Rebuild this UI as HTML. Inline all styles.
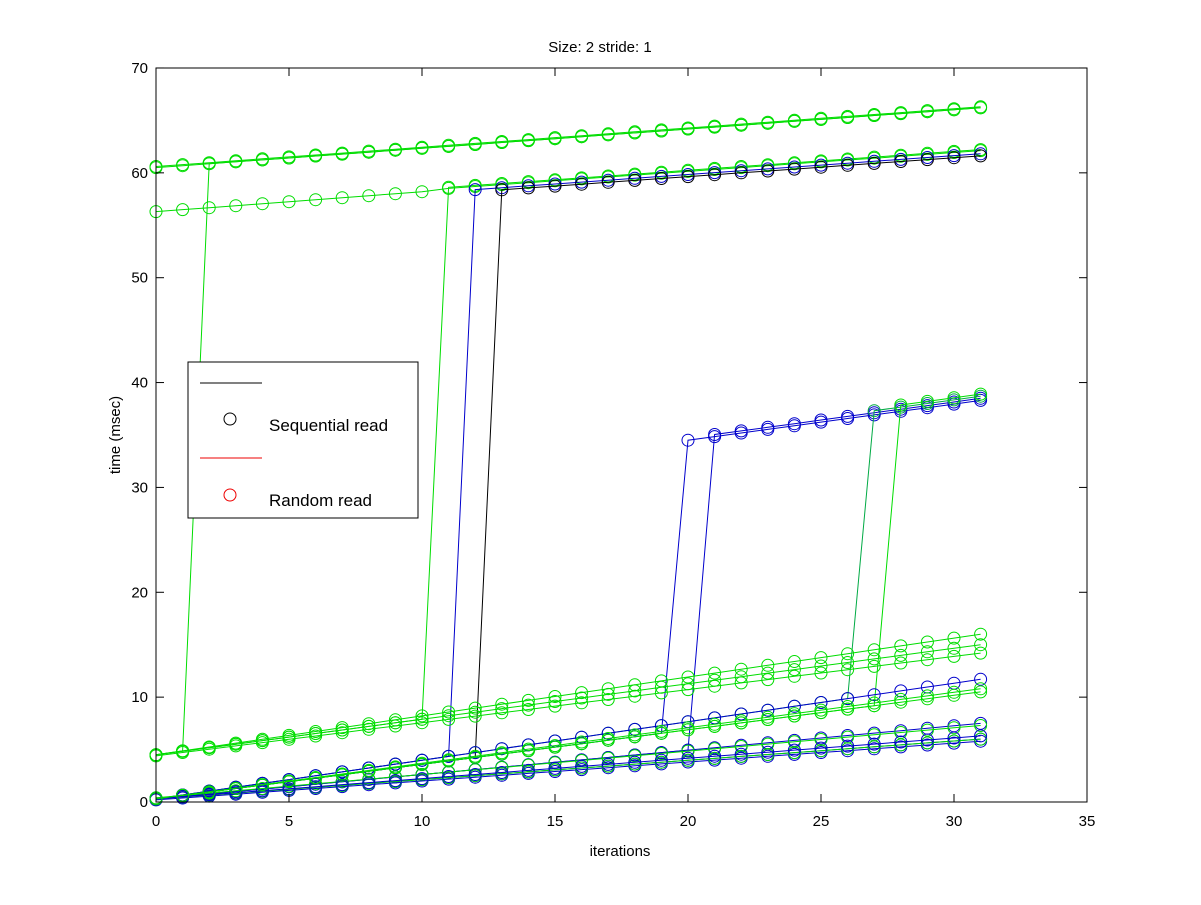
<!DOCTYPE html><html><head><style>body{margin:0;background:#fff}svg text{font-family:"Liberation Sans",sans-serif}</style></head><body>
<svg id="s" width="1201" height="900" xmlns="http://www.w3.org/2000/svg">
<rect width="1201" height="900" fill="#fff"/>
<g id="d"></g>
<rect x="156" y="68" width="931" height="734" fill="none" stroke="#000"/>
<g id="ax" font-size="15"></g>
<text x="600" y="52" font-size="15" text-anchor="middle">Size: 2 stride: 1</text>
<text x="620" y="856" font-size="15" text-anchor="middle">iterations</text>
<text transform="translate(120,435) rotate(-90)" font-size="15" text-anchor="middle">time (msec)</text>
<rect x="188" y="362" width="230" height="156" fill="#fff" stroke="#000"/>
<line x1="200" y1="383" x2="262" y2="383" stroke="#000"/>
<circle cx="230" cy="419" r="6" fill="none" stroke="#000"/>
<text x="269" y="431" font-size="17">Sequential read</text>
<line x1="200" y1="458" x2="262" y2="458" stroke="#e00"/>
<circle cx="230" cy="495" r="6" fill="none" stroke="#e00"/>
<text x="269" y="506" font-size="17">Random read</text>
</svg>
<script>
var X=function(v){return 156+v*26.6},Y=function(v){return 802-v*10.486};
var ax=document.getElementById('ax'),h='';
for(var i=0;i<=35;i+=5){var x=X(i);h+='<line x1="'+x+'" y1="802" x2="'+x+'" y2="794" stroke="#000"/><line x1="'+x+'" y1="68" x2="'+x+'" y2="76" stroke="#000"/><text x="'+x+'" y="826" text-anchor="middle">'+i+'</text>';}
for(var j=0;j<=70;j+=10){var y=Y(j);h+='<line x1="156" y1="'+y+'" x2="164" y2="'+y+'" stroke="#000"/><line x1="1087" y1="'+y+'" x2="1079" y2="'+y+'" stroke="#000"/><text x="148" y="'+(y+5)+'" text-anchor="end">'+j+'</text>';}
ax.innerHTML=h;
function lin(a,b){return function(x){return a+(b-a)*x/31}}
var hi=lin(60.5,66.2),mid=function(x){return 58.4+(x-12)*0.18},b3=function(x){return 34.5+(x-20)*0.345};
function seg(base,jx,top){return function(x){return x<jx?base(x):top(x)}}
var S=[];
var gA=lin(4.5,16),gB=lin(4.5,15),bA=lin(0.3,11.7),bB=lin(0.3,10.5),bC=lin(0.3,7.5),bD=lin(0.3,6),bE=lin(0.2,5.8);
S.push(['#0d0',hi],['#0d0',function(x){return hi(x)+0.1}],['#0d0',function(x){return x<11?56.3+0.19*x:mid(x)+0.3}]);
S.push(['#0d0',seg(gA,2,hi)],['#0d0',seg(gB,11,function(x){return mid(x)+0.4})]);
S.push(['#00c',seg(bA,12,mid)],['#000',seg(bB,13,function(x){return mid(x)-0.2})]);
S.push(['#00c',seg(bB,20,b3)],['#00c',seg(bC,21,function(x){return b3(x)+0.2})]);
S.push(['#0a4',seg(bA,27,function(x){return b3(x)+0.4})],['#0d0',seg(bB,28,function(x){return b3(x)+0.6})]);
S.push(['#0d0',gA],['#0d0',gB],['#0d0',lin(4.4,14.2)],['#00c',bA],['#0d0',bB],['#00c',bC],['#0d0',lin(0.4,7.3)],['#00c',bD],['#00c',bE],['#0d0',bD],['#00c',lin(0.3,6.3)],['#0d0',lin(0.3,10.8)]);
var g='';
S.forEach(function(s){var p='',c='';for(var x=0;x<=31;x++){var px=X(x),py=Y(s[1](x));p+=(x?'L':'M')+px.toFixed(1)+','+py.toFixed(1);c+='<circle cx="'+px.toFixed(1)+'" cy="'+py.toFixed(1)+'" r="6"/>';}
g+='<path d="'+p+'" fill="none" stroke="'+s[0]+'" stroke-width="1"/><g fill="none" stroke="'+s[0]+'">'+c+'</g>';});
document.getElementById('d').innerHTML=g;
</script>
</body></html>
